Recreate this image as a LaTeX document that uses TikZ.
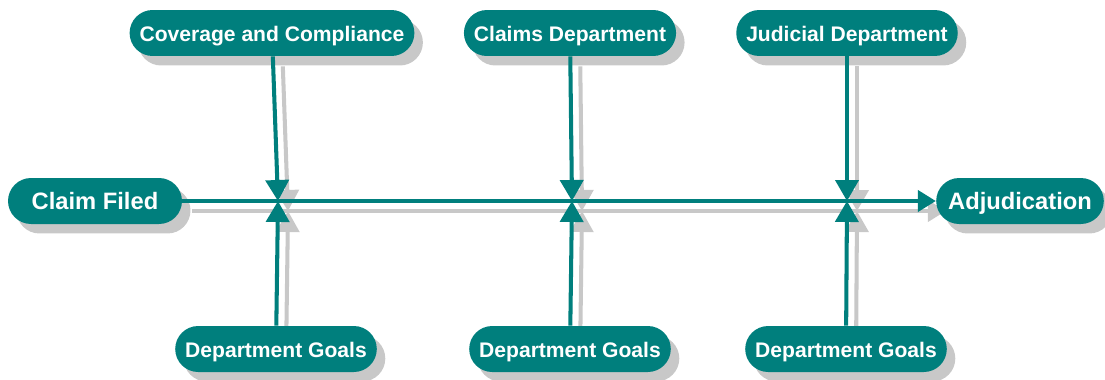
\documentclass[tikz,border=0pt]{standalone}
\usepackage{fontspec}
\setmainfont{Liberation Sans}
\usetikzlibrary{arrows.meta,shadows,backgrounds,positioning}
\definecolor{flowteal}{HTML}{007F7D}
\definecolor{shade}{HTML}{C8C8C8}
\tikzset{
  stage/.style={fill=flowteal, text=white, font=\bfseries\fontsize{13.5}{16}\selectfont,
    rounded corners=0.46cm, minimum height=0.92cm, inner xsep=0.24cm,
    text height=1.9ex, text depth=0.1ex,
    drop shadow={shadow xshift=0.17cm, shadow yshift=-0.19cm, fill=shade, opacity=1}},
  cause/.style={stage, font=\bfseries\fontsize{12}{14}\selectfont, inner xsep=0.2cm},
  spine/.style={color=flowteal, line width=2.3pt},
  spineshade/.style={color=shade, line width=2.3pt, transform canvas={xshift=0.2cm, yshift=-0.2cm}},
  bigtip/.style={-{Triangle[width=0.42cm,length=0.36cm]}},
  jointip/.style={-{Triangle[width=0.46cm,length=0.42cm]}},
}

\begin{document}
\begin{tikzpicture}[x=0.02cm,y=-0.02cm]
  \useasboundingbox (0,0) rectangle (1105,379);
  % head and tail
  \node[stage, minimum width=3.48cm] (claim) at (95,201) {Claim Filed};
  \node[stage] (adj) at (1020,201) {Adjudication};
  % causes above
  \node[cause] (cov) at (272,33) {Coverage and Compliance};
  \node[cause] (clm) at (570,33) {Claims Department};
  \node[cause] (jud) at (847,33) {Judicial Department};
  % goals below
  \node[cause] (goal1) at (276,349) {Department Goals};
  \node[cause] (goal2) at (570,349) {Department Goals};
  \node[cause] (goal3) at (846,349) {Department Goals};
  % joints on the spine
  \coordinate (j1) at (278,201);
  \coordinate (j2) at (572,201);
  \coordinate (j3) at (847,201);

  \begin{pgfonlayer}{background}
    \draw[spineshade, bigtip] (claim) -- (adj);
    \draw[spineshade, jointip] (cov) -- (j1);
    \draw[spineshade, jointip] (goal1) -- (j1);
    \draw[spineshade, jointip] (clm) -- (j2);
    \draw[spineshade, jointip] (goal2) -- (j2);
    \draw[spineshade, jointip] (jud) -- (j3);
    \draw[spineshade, jointip] (goal3) -- (j3);
  \end{pgfonlayer}

  \draw[spine, bigtip] (claim) -- (adj);
  \draw[spine, jointip] (cov) -- (j1);
  \draw[spine, jointip] (goal1) -- (j1);
  \draw[spine, jointip] (clm) -- (j2);
  \draw[spine, jointip] (goal2) -- (j2);
  \draw[spine, jointip] (jud) -- (j3);
  \draw[spine, jointip] (goal3) -- (j3);
\end{tikzpicture}
\end{document}
